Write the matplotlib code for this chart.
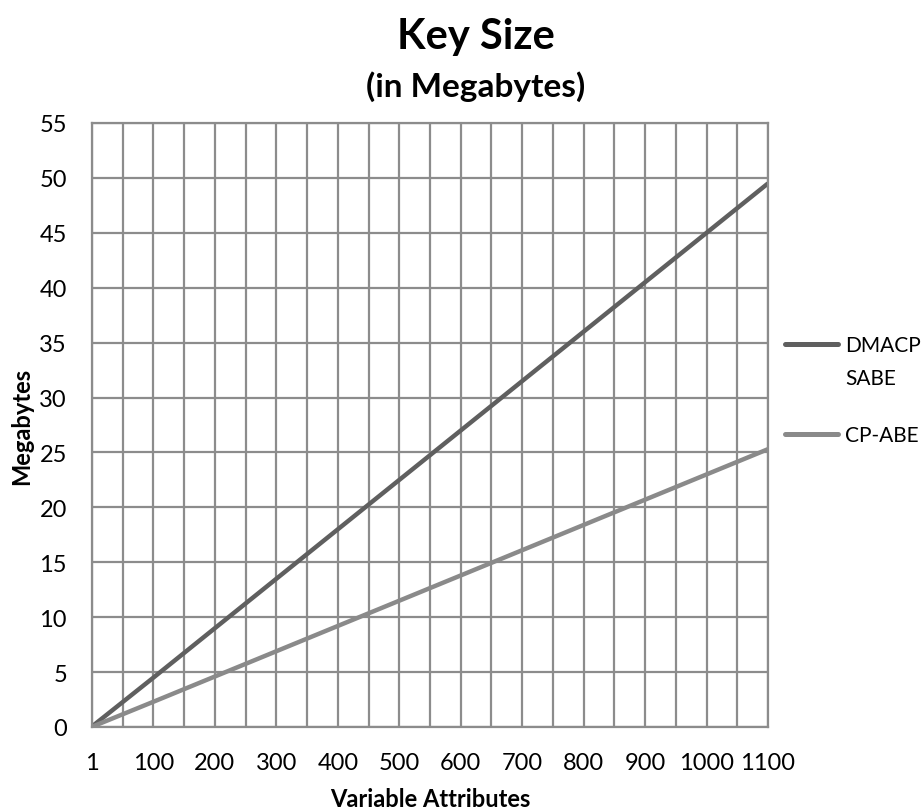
import matplotlib.pyplot as plt
from matplotlib.lines import Line2D
import numpy as np

plt.rcParams['font.family'] = ['Lato', 'DejaVu Sans']

attributes = [1, 100, 200, 300, 400, 500, 600, 700, 800, 900, 1000, 1100]
dmacpsabe = [0.05, 4.5, 9.0, 13.5, 18.0, 22.5, 27.0, 31.5, 36.0, 40.5, 45.0, 49.5]
cpabe = [0.02, 2.3, 4.6, 6.9, 9.2, 11.5, 13.8, 16.1, 18.4, 20.7, 23.0, 25.3]
y_ticks = [0, 5, 10, 15, 20, 25, 30, 35, 40, 45, 50, 55]
series_names = ['DMACP\nSABE', 'CP-ABE']
series_colors = ['#5f5f5f', '#8a8a8a']

W, H = 924, 812
fig = plt.figure(figsize=(W / 100, H / 100), dpi=100)
ax = fig.add_axes([92 / W, 1 - 728 / H, 676 / W, 604 / H])

pos = np.arange(len(attributes)) * 2
grid_c = '#8c8c8c'
ax.set_xlim(0, pos[-1])
ax.set_ylim(0, 55)
ax.set_xticks(pos)
ax.set_xticklabels([str(a) for a in attributes], fontsize=17)
ax.set_xticks(np.arange(0, pos[-1] + 1), minor=True)
ax.set_yticks(y_ticks)
ax.set_yticklabels([str(v) for v in y_ticks], fontsize=17)
ax.grid(True, which='both', axis='x', color=grid_c, lw=1.6)
ax.grid(True, axis='y', color=grid_c, lw=1.6)
ax.tick_params(axis='x', which='both', length=0, pad=18)
ax.tick_params(axis='y', which='both', length=0, pad=18)
for s in ax.spines.values():
    s.set_color(grid_c)
    s.set_linewidth(1.6)
ax.set_axisbelow(True)

ax.plot(pos, dmacpsabe, color=series_colors[0], lw=3.2, solid_capstyle='butt')
ax.plot(pos, cpabe, color=series_colors[1], lw=3.2, solid_capstyle='butt')

fig.text(430 / W, 1 - 800 / H, 'Variable Attributes', ha='center', va='center',
         fontsize=17, fontweight='bold')
fig.text(22 / W, 1 - 426 / H, 'Megabytes', ha='center', va='center', rotation=90,
         fontsize=17, fontweight='bold')

fig.text(476 / W, 1 - 37 / H, 'Key Size', ha='center', va='center', fontsize=30, fontweight='bold')
fig.text(476 / W, 1 - 87 / H, '(in Megabytes)', ha='center', va='center', fontsize=24, fontweight='bold')

# legend drawn by hand to match the wrapped label layout
for name, c, yl in zip(series_names, series_colors, [345, 435]):
    fig.add_artist(Line2D([785 / W, 838 / W], [1 - yl / H, 1 - yl / H], color=c, lw=3.6,
                          solid_capstyle='round', transform=fig.transFigure))
    fig.text(845 / W, 1 - (yl - 9) / H, name, ha='left', va='top', fontsize=15,
             linespacing=1.8)

fig.savefig('out.png', dpi=100)
